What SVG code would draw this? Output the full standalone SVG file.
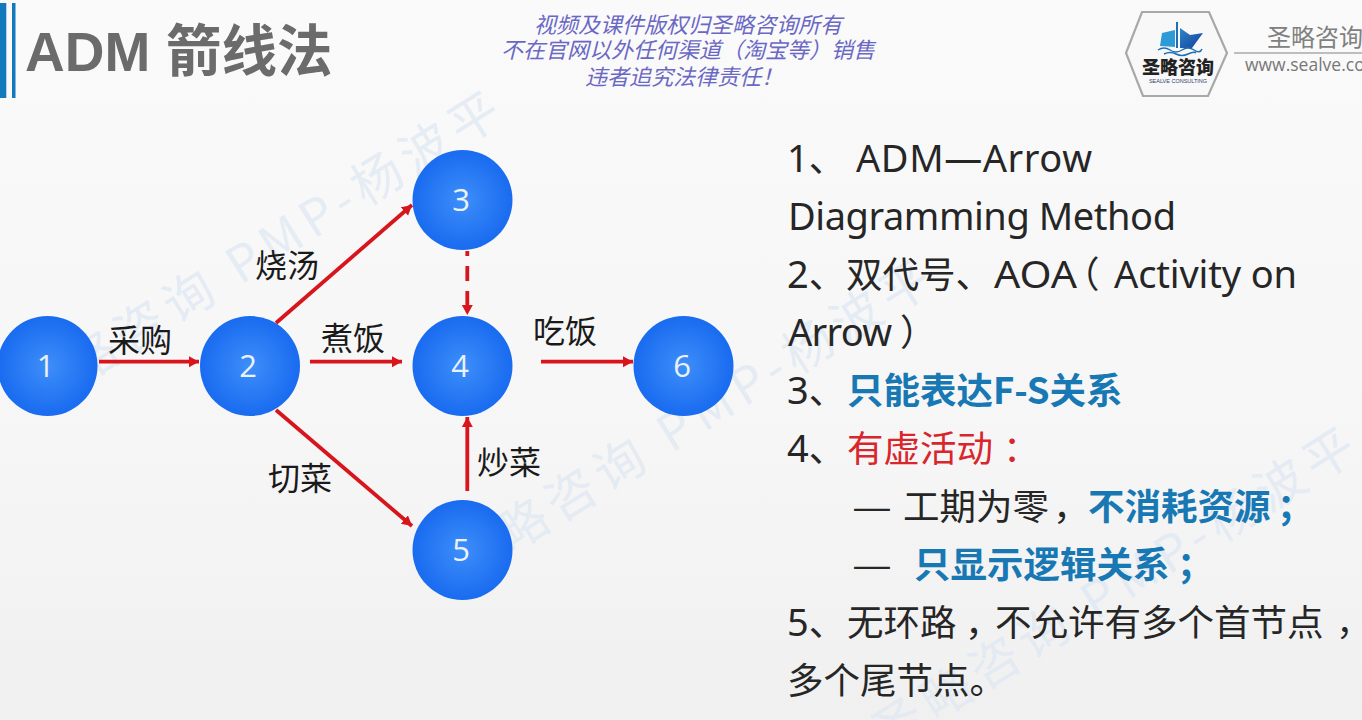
<svg xmlns="http://www.w3.org/2000/svg" width="1362" height="720" viewBox="0 0 1362 720">
<style>
.cjk{font-family:"Noto Sans CJK SC","Noto Sans",sans-serif}
.n{font-family:"Open Sans","Noto Sans",sans-serif;font-size:31px;fill:#eaf2fb;text-anchor:middle}
.l{font-family:"Noto Sans CJK SC",sans-serif;font-size:32px;fill:#1a1a1a}
.b{font-family:"Noto Sans CJK SC","Noto Sans",sans-serif;font-size:36.5px;fill:#262626}
.e{font-family:"Noto Sans","Open Sans",sans-serif;font-size:38px}
.blue{fill:#1878b4;font-weight:700}
.wm{font-family:"Noto Sans CJK SC",sans-serif;font-size:50px;fill:#dfe8f3;opacity:.75;letter-spacing:7px;dominant-baseline:central}
.c{fill:none;stroke:#d8141c;stroke-width:3.8}
.h{font-family:"Noto Sans CJK SC",sans-serif;font-size:22px;font-style:italic;fill:#6a68c4;text-anchor:middle}
</style>
<defs>
<radialGradient id="g" cx=".5" cy=".5" r=".5"><stop offset="0" stop-color="#3e8ef9"/><stop offset="1" stop-color="#196bf0"/></radialGradient>
<linearGradient id="bg" x1="0" y1="0" x2="0" y2="1"><stop offset="0" stop-color="#fafafa"/><stop offset=".6" stop-color="#f6f6f6"/><stop offset="1" stop-color="#f0f0f0"/></linearGradient>
<linearGradient id="s" x1="0" y1="0" x2="1" y2="1"><stop offset="0" stop-color="#2f86c8"/><stop offset="1" stop-color="#123f9c"/></linearGradient>
<marker id="a" markerUnits="userSpaceOnUse" markerWidth="12" markerHeight="12" refX="10" refY="5.500" orient="auto"><path d="M0 0L10 5.500L0 11Z" fill="#d8141c"/></marker>
</defs>
<rect width="1362" height="720" fill="url(#bg)"/>
<g id="watermarks">
<text class="wm" transform="translate(20 397) rotate(-32)">圣略咨询 PMP-杨波平</text>
<text class="wm" transform="translate(451 565) rotate(-32)">圣略咨询 PMP-杨波平</text>
<text class="wm" transform="translate(875 733) rotate(-32)">圣略咨询 PMP-杨波平</text>
</g>
<g id="title">
<rect x="0" y="3" width="6.300" height="95" fill="#1279bd"/><rect x="12" y="3" width="3.500" height="95" fill="#1279bd"/>
<text x="25" y="71" font-family="Liberation Sans,sans-serif" font-weight="700" font-size="55" fill="#6b6b6b">ADM</text>
<text x="166" y="71" class="cjk" font-weight="700" font-size="55.500" fill="#6b6b6b">箭线法</text>
</g>
<g id="notice">
<text class="h" x="688" y="33">视频及课件版权归圣略咨询所有</text>
<text class="h" x="688" y="58">不在官网以外任何渠道（淘宝等）销售</text>
<text class="h" x="684" y="85">违者追究法律责任！</text>
</g>
<g id="logo">
<path d="M1142 12H1209L1227 53L1208 96H1143L1126 53Z" fill="#f8f8f8" stroke="#a8a8a8" stroke-width="2.200"/>
<path d="M1162 33L1175 30V47L1160 46Z" fill="#2f9bd6"/>
<path d="M1177 22V48" stroke="#1d6fb8" stroke-width="2"/>
<path d="M1180 28L1190 35L1203 33L1192 48H1180Z" fill="url(#s)"/>
<path d="M1158 50Q1164 46 1170 50T1182 50T1194 50T1202 49M1164 54Q1170 51 1176 54T1188 54T1196 53" fill="none" stroke="#1f6fb5" stroke-width="1.500"/>
<text x="1178" y="74" class="cjk" font-weight="900" font-size="18" fill="#222" text-anchor="middle">圣略咨询</text>
<text x="1178" y="83" font-family="Liberation Sans,sans-serif" font-size="5.500" fill="#33406a" text-anchor="middle">SEALVE CONSULTING</text>
<path d="M1234 53H1362" stroke="#aaa" stroke-width="1.500"/>
<text x="1267" y="46" class="cjk" font-size="24" fill="#808080">圣略咨询</text>
<text x="1245" y="71" font-family="Open Sans,sans-serif" font-size="17.500" fill="#777">www.sealve.com</text>
</g>
<g id="connectors">
<path class="c" marker-end="url(#a)" d="M99 361.700H199"/>
<path class="c" marker-end="url(#a)" d="M276 323L412 205"/>
<path class="c" marker-end="url(#a)" d="M310 361.700H402"/>
<path class="c" marker-end="url(#a)" d="M276 410L412 526"/>
<path class="c" marker-end="url(#a)" stroke-dasharray="15 10" stroke-dashoffset="10" d="M467.300 251V315"/>
<path class="c" marker-end="url(#a)" d="M467.300 491V417"/>
<path class="c" marker-end="url(#a)" d="M541 361.700H633"/>
</g>
<g id="node1"><circle cx="47.500" cy="366" r="50" fill="url(#g)"/><text class="n" x="45.500" y="377">1</text></g>
<g id="node2"><circle cx="250" cy="366" r="50" fill="url(#g)"/><text class="n" x="248" y="377">2</text></g>
<g id="node3"><circle cx="462.500" cy="200" r="50" fill="url(#g)"/><text class="n" x="461" y="211">3</text></g>
<g id="node4"><circle cx="462.500" cy="366" r="50" fill="url(#g)"/><text class="n" x="460" y="377">4</text></g>
<g id="node5"><circle cx="462.500" cy="550" r="50" fill="url(#g)"/><text class="n" x="461" y="561">5</text></g>
<g id="node6"><circle cx="683.500" cy="366" r="50" fill="url(#g)"/><text class="n" x="682" y="377">6</text></g>
<g id="labels">
<text class="l" x="108" y="352">采购</text>
<text class="l" x="255" y="277">烧汤</text>
<text class="l" x="321" y="350">煮饭</text>
<text class="l" x="268" y="490">切菜</text>
<text class="l" x="477" y="474">炒菜</text>
<text class="l" x="533" y="343">吃饭</text>
</g>
<g id="notes">
<text class="b" x="787" y="172"><tspan class="e">1</tspan>、<tspan class="e" x="856" textLength="236">ADM—Arrow</tspan></text>
<text class="b" y="230"><tspan class="e" x="788" textLength="388">Diagramming Method</tspan></text>
<text class="b" x="787" y="288"><tspan class="e">2</tspan>、<tspan x="846">双代号、</tspan><tspan class="e" x="994" textLength="83" lengthAdjust="spacingAndGlyphs">AOA</tspan><tspan x="1063">（</tspan><tspan class="e" x="1114" textLength="183">Activity on</tspan></text>
<text class="b" y="346"><tspan class="e" x="788" textLength="104">Arrow</tspan><tspan x="900">）</tspan></text>
<text class="b" x="787" y="404"><tspan class="e">3</tspan>、<tspan class="blue" x="847">只能表达F-S关系</tspan></text>
<text class="b" x="787" y="462"><tspan class="e">4</tspan>、<tspan fill="#d8262c" x="847">有虚活动</tspan><tspan fill="#d8262c" x="1003">：</tspan></text>
<text class="b" y="520"><tspan x="852" textLength="40" lengthAdjust="spacingAndGlyphs">—</tspan><tspan x="903" textLength="146">工期为零</tspan><tspan x="1053">，</tspan><tspan class="blue" x="1088">不消耗资源</tspan><tspan class="blue" x="1277">；</tspan></text>
<text class="b" y="578"><tspan x="852" textLength="40" lengthAdjust="spacingAndGlyphs">—</tspan><tspan class="blue" x="914">只显示逻辑关系</tspan><tspan class="blue" x="1177">；</tspan></text>
<text class="b" x="787" y="636"><tspan class="e">5</tspan>、<tspan x="847">无环路</tspan><tspan x="965">，</tspan><tspan x="995">不允许有多个首节点</tspan><tspan x="1327" dy="10" font-size="35" font-family="Noto Sans CJK TC">，</tspan></text>
<text class="b" x="787" y="694">多个尾节点。</text>
</g>
</svg>
